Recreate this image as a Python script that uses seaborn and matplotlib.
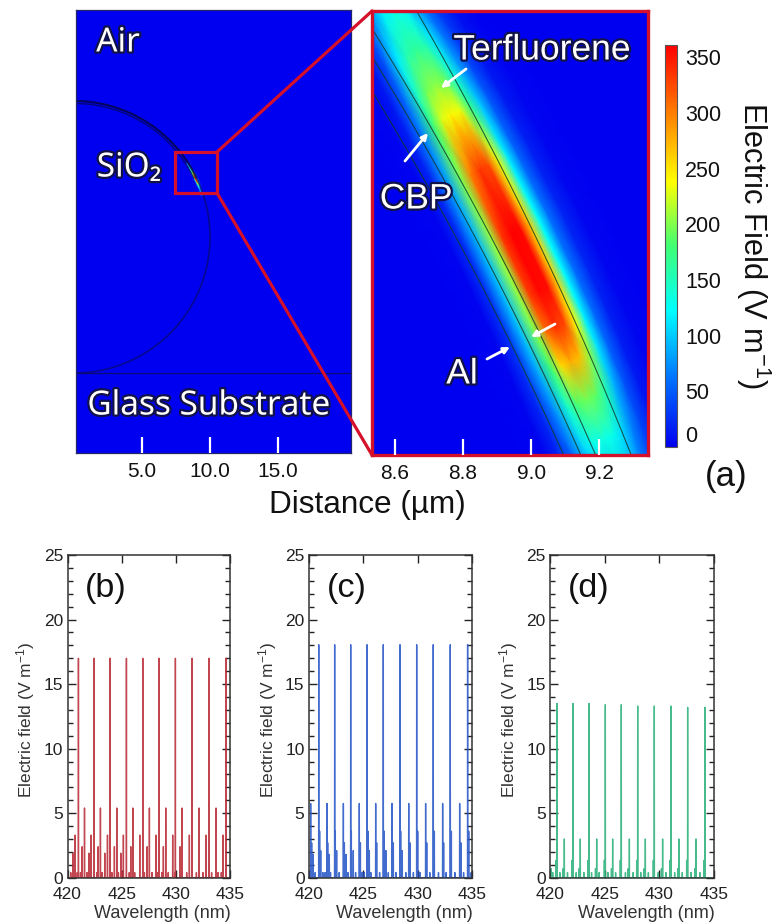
import numpy as np
import pandas as pd
import matplotlib
matplotlib.use("Agg")
import matplotlib.pyplot as plt
import matplotlib.patheffects as pe
from matplotlib.colors import LinearSegmentedColormap, Normalize
from matplotlib.cm import ScalarMappable
from matplotlib.lines import Line2D
from matplotlib.patches import Rectangle, FancyArrowPatch
from matplotlib.ticker import MultipleLocator
import seaborn as sns

# ---------- data ----------
FIELD_ANGLE = [33, 31.0, 30.2, 29.4, 28.7, 28.15, 27.1, 25.9, 24.8, 24.1, 23.5, 22.8, 22.06, 21.0, 18]
FIELD_RADIUS = [9.66, 9.76, 9.80, 9.84, 9.88, 9.91, 9.94, 9.97, 10.00, 10.03, 10.06, 10.10, 10.15, 10.22, 10.5]
FIELD_VALUES = [
    [0, 1, 4, 18, 45, 68, 80, 75, 55, 30, 15, 4, 0, 0, 0],
    [0, 1, 6, 28, 65, 98, 110, 100, 70, 40, 20, 5, 0, 0, 0],
    [0, 1, 8, 36, 80, 118, 130, 120, 80, 48, 25, 6, 1, 0, 0],
    [0, 2, 10, 45, 115, 155, 165, 155, 110, 65, 32, 9, 1, 0, 0],
    [0, 2, 13, 58, 150, 195, 205, 195, 140, 82, 40, 12, 2, 0, 0],
    [0, 2, 17, 68, 178, 228, 242, 232, 170, 98, 48, 15, 3, 0, 0],
    [0, 2, 22, 82, 200, 300, 335, 325, 232, 115, 56, 18, 3, 0, 0],
    [0, 2, 26, 92, 208, 335, 360, 358, 260, 125, 62, 20, 4, 0, 0],
    [0, 2, 28, 95, 205, 330, 358, 355, 258, 122, 60, 20, 4, 0, 0],
    [0, 2, 28, 92, 198, 305, 335, 325, 238, 118, 58, 18, 3, 0, 0],
    [0, 2, 26, 85, 180, 255, 278, 268, 205, 110, 54, 16, 3, 0, 0],
    [0, 2, 22, 72, 145, 185, 195, 188, 155, 90, 46, 14, 2, 0, 0],
    [0, 2, 17, 58, 108, 130, 135, 130, 108, 70, 38, 11, 2, 0, 0],
    [0, 1, 12, 40, 72, 88, 92, 88, 72, 48, 24, 7, 1, 0, 0],
    [0, 1, 5, 16, 30, 40, 40, 35, 30, 20, 10, 2, 0, 0, 0],
]
LAYER_ANGLE_ENDS = [29.6, 22.0]
LAYER_RADII_TOP = [10.0, 9.863, 9.820, 9.767]
LAYER_RADII_BOTTOM = [10.0, 9.902, 9.862, 9.816]
CBAR_TICKS = [0, 50, 100, 150, 200, 250, 300, 350]

B_PEAKS = {
    17.0: [421.01, 422.46, 423.93, 425.44, 426.95, 428.45, 429.96, 431.5, 433.07, 434.63],
    5.4: [421.57, 423.04, 424.55, 426.03, 427.56, 429.07, 430.58, 432.14, 433.71],
    3.3: [420.71, 422.18, 423.69, 425.16, 426.67, 428.18, 429.71, 431.25, 432.79, 434.36],
    2.4: [421.35, 422.83, 424.33, 425.84, 427.35, 428.85, 430.39],
    1.9: [420.49, 421.97, 423.44, 424.92],
    0.4: [420.3, 420.9, 421.2, 421.8, 422.7, 423.2, 424.1, 424.7, 425.0, 425.7, 426.2, 427.1,
          427.8, 428.3, 428.7, 429.3, 429.9, 430.5, 431.0, 431.9, 432.5, 433.3, 433.9, 434.2],
}
C_PEAKS = {
    18.05: [420.92, 422.38, 423.85, 425.35, 426.84, 428.37, 429.9, 431.42, 432.98, 434.57],
    5.75: [420.18, 421.68, 423.18, 424.64, 426.14, 427.64, 429.17, 430.72, 432.28, 433.84],
    3.6: [421.0, 422.44, 423.91, 425.44, 426.93, 428.43, 429.99, 431.52, 433.08, 434.67],
    2.7: [420.27, 421.74, 423.27, 424.74, 426.23, 427.76, 429.29, 430.82, 432.37, 433.96],
    2.1: [421.1, 422.56, 424.09, 425.56, 427.08, 428.58],
    1.8: [420.42, 421.89, 423.42],
    0.4: [420.05, 420.6, 421.3, 421.5, 422.0, 422.8, 423.6, 424.3, 424.9, 425.1, 425.7, 426.5,
          427.3, 428.0, 428.9, 429.6, 430.2, 431.1, 431.9, 432.6, 433.4, 434.2, 434.9],
}
D_PEAKS = {
    13.5: [420.64, 422.10, 423.57],
    13.4: [425.06, 426.52],
    13.3: [428.02, 429.54, 431.06],
    13.2: [432.59, 434.18],
    3.0: [421.31, 422.77, 424.27, 425.73, 427.26, 428.72, 430.3, 431.8, 433.35],
    1.35: [420.55, 422.01, 423.48, 424.97, 426.43, 427.93, 429.45, 430.97, 432.5, 434.09],
    0.7: [420.1, 421.2, 422.66, 424.16, 425.62, 427.15, 428.61, 430.19, 431.69, 433.24],
    0.4: [420.25, 420.9, 421.6, 422.4, 423.1, 423.8, 424.5, 425.3, 426.0, 426.9, 427.6, 428.3,
          429.0, 429.9, 430.6, 431.4, 432.1, 432.9, 433.7],
}
SPECTRA = [("(b)", B_PEAKS, "#b92c38", 67.5, 230.0),
           ("(c)", C_PEAKS, "#2857c8", 308.7, 472.3),
           ("(d)", D_PEAKS, "#2fb27c", 550.0, 714.0)]
YLABEL_X = [37, 279, 520]

# ---------- theme ----------
W, H = 774, 923
sns.set_theme(style="white")
plt.rcParams["font.family"] = ["Liberation Sans", "DejaVu Sans"]
plt.rcParams["mathtext.fontset"] = "custom"
plt.rcParams["mathtext.rm"] = "Liberation Sans"
plt.rcParams["mathtext.default"] = "regular"

cmap = LinearSegmentedColormap.from_list(
    "field", [(0, (0, 0, 0.94)), (0.17, (0, 0.45, 1)), (0.34, (0, 1, 1)), (0.5, (0.25, 1, 0.45)),
              (0.66, (1, 1, 0)), (0.83, (1, 0.5, 0)), (1, (1, 0, 0))])
norm = Normalize(0, 361)


def axes_px(x0, y0, x1, y1):
    return fig.add_axes([x0 / W, 1 - y1 / H, (x1 - x0) / W, (y1 - y0) / H])


def fx(px):
    return px / W


def fy(py):
    return 1 - py / H


fig = plt.figure(figsize=(W / 100, H / 100), dpi=100)

phi = np.deg2rad(FIELD_ANGLE)
rad = np.array(FIELD_RADIUS)
RR, PP = np.meshgrid(rad, phi)
MX, MY = RR * np.cos(PP), 10 + RR * np.sin(PP)
Z = np.array(FIELD_VALUES, dtype=float)
BLUE = cmap(0.0)

# ---------- (a) overview ----------
ax0 = axes_px(76, 10, 351, 453)
ax0.set_facecolor(BLUE)
ax0.set_axisbelow(False)
ax0.pcolormesh(MX, MY, Z, shading="gouraud", cmap=cmap, norm=norm, alpha=0.55)
t = np.deg2rad(np.linspace(26, 90, 80))
ax0.plot(10 * np.cos(t), 10 + 10 * np.sin(t), color="#05053a", lw=1.5, alpha=.8)
ax0.plot(9.82 * np.cos(t), 10 + 9.82 * np.sin(t), color="#05053a", lw=1.0, alpha=.6)
t = np.deg2rad(np.linspace(-90, 26, 120))
ax0.plot(10 * np.cos(t), 10 + 10 * np.sin(t), color="#0a0a70", lw=1.2, alpha=.75)
ax0.axhline(0, color="#0a0a70", lw=0.9)
ax0.set_xlim(0.147, 20.37)
ax0.set_ylim(-5.88, 26.69)
ax0.add_patch(Rectangle((7.43, 13.24), 3.09, 3.01, fill=False, ec="#d5102a", lw=2.3, zorder=5))

# ---------- (a) zoom ----------
ax1 = axes_px(372, 11, 648, 455)
ax1.set_facecolor(BLUE)
ax1.set_axisbelow(False)
ax1.pcolormesh(MX, MY, Z, shading="gouraud", cmap=cmap, norm=norm)
deg = np.linspace(15, 36, 100)
t = np.deg2rad(deg)
for r_top, r_bot in zip(LAYER_RADII_TOP, LAYER_RADII_BOTTOM):
    r = r_bot + (r_top - r_bot) * (deg - LAYER_ANGLE_ENDS[1]) / (LAYER_ANGLE_ENDS[0] - LAYER_ANGLE_ENDS[1])
    ax1.plot(r * np.cos(t), 10 + r * np.sin(t), color="#143a28", lw=0.75, alpha=.85)
ax1.set_xlim(8.532, 9.344)
ax1.set_ylim(13.689, 14.995)
for s in ax1.spines.values():
    s.set_color("#d5102a")
    s.set_linewidth(2.4)
for s in ax0.spines.values():
    s.set_color("#25256a")
    s.set_linewidth(0.9)

for ax, ticks, fmt in ((ax0, [5, 10, 15], "{:.1f}"), (ax1, [8.6, 8.8, 9.0, 9.2], "{:.1f}")):
    ax.set_xticks(ticks)
    ax.set_xticklabels([fmt.format(v) for v in ticks], fontsize=15)
    ax.set_yticks([])
    ax.tick_params(axis="x", direction="in", length=11.5, width=1.6, color="white", pad=6.5,
                   labelcolor="#111111", bottom=True)

for a, b in (((217, 152), (372, 11)), ((217, 193), (372, 455))):
    fig.add_artist(Line2D([fx(a[0]), fx(b[0])], [fy(a[1]), fy(b[1])], color="#d5102a", lw=2.3))

# overlay labels
glow = [pe.withStroke(linewidth=3.2, foreground="#12124a")]
for txt, x, y, size in (("Air", 118, 43, 24), ("SiO₂", 129, 168, 24), ("Glass Substrate", 209, 406, 24)):
    fig.text(fx(x), fy(y), txt, family=["Noto Sans", "DejaVu Sans"], weight="bold", size=size, color="white",
             ha="center", va="center", path_effects=glow)
for txt, x, y in (("Terfluorene", 542, 50), ("CBP", 416, 199), ("Al", 462, 374)):
    fig.text(fx(x), fy(y), txt, size=25.5, color="white", ha="center", va="center", path_effects=glow)
for start, end in (((466, 69), (441, 88)), ((405, 161), (428, 133)), ((487, 359), (510, 347)), ((555, 324), (531, 337))):
    fig.add_artist(FancyArrowPatch(
        (fx(start[0]), fy(start[1])), (fx(end[0]), fy(end[1])), transform=fig.transFigure,
        arrowstyle="-|>", mutation_scale=9, color="white", lw=2, shrinkA=0, shrinkB=0))

fig.text(fx(367), fy(505), "Distance (µm)", size=22.7, color="#111111", ha="center", va="center")
fig.text(fx(726), fy(476), "(a)", size=25, color="#111111", ha="center", va="center")

# ---------- colour bar ----------
cax = axes_px(665, 45, 677, 447)
cb = fig.colorbar(ScalarMappable(norm=norm, cmap=cmap), cax=cax)
cb.set_ticks(CBAR_TICKS)
cb.ax.tick_params(labelsize=15.5, length=2.5, width=.7, direction="in", pad=6, colors="#111111")
cb.outline.set_edgecolor("#555555")
cb.outline.set_linewidth(.8)
cb.ax.get_yticklabels()[0].set_verticalalignment("bottom")
fig.text(fx(753), fy(245), "Electric Field (V m$^{-1}$)", size=22.2, rotation=270, color="#111111",
         ha="center", va="center")

# ---------- (b)-(d) spectra ----------
for (tag, peaks, color, x0, x1), ylx in zip(SPECTRA, YLABEL_X):
    ax = axes_px(x0, 555, x1, 877.7)
    rows = sorted((pos, h) for h, positions in peaks.items() for pos in positions)
    xs, ys = [420.0], [0.0]
    for pos, h in rows:
        xs += [pos - 0.012, pos, pos + 0.012]
        ys += [0.0, h, 0.0]
    xs.append(435.0)
    ys.append(0.0)
    df = pd.DataFrame({"Wavelength": xs, "Field": ys})
    sns.lineplot(data=df, x="Wavelength", y="Field", estimator=None, sort=False, color=color, lw=1.0,
                 alpha=.88, ax=ax)
    ax.set_xlim(420, 435)
    ax.set_ylim(0, 25)
    ax.set_xticks([420, 425, 430, 435])
    ax.set_yticks([0, 5, 10, 15, 20, 25])
    ax.yaxis.set_minor_locator(MultipleLocator(1))
    ax.tick_params(axis="both", which="major", direction="in", length=6, width=1, top=True, bottom=True,
                   left=True, right=True, labelsize=12.5, colors="#222222")
    ax.tick_params(axis="x", which="major", pad=7)
    ax.tick_params(axis="y", which="major", pad=3)
    ax.tick_params(axis="y", which="minor", direction="in", length=3.5, width=1, left=True, right=True,
                   color="#222222")
    for s in ax.spines.values():
        s.set_color("#333333")
        s.set_linewidth(1.1)
    ax.set_xlabel("Wavelength (nm)", fontsize=13, color="#333333")
    ax.xaxis.set_label_coords(0.5 + 14 / (x1 - x0), -0.086)
    ax.set_ylabel("Electric field (V m$^{-1}$)", fontsize=12.5, color="#333333")
    ax.yaxis.set_label_coords((ylx - x0) / (x1 - x0), 0.489)
    ax.text(38.5 / (x1 - x0), 0.897, tag, transform=ax.transAxes, size=24.7, color="#111111",
            ha="center", va="center")

fig.savefig("out.png", dpi=100)
